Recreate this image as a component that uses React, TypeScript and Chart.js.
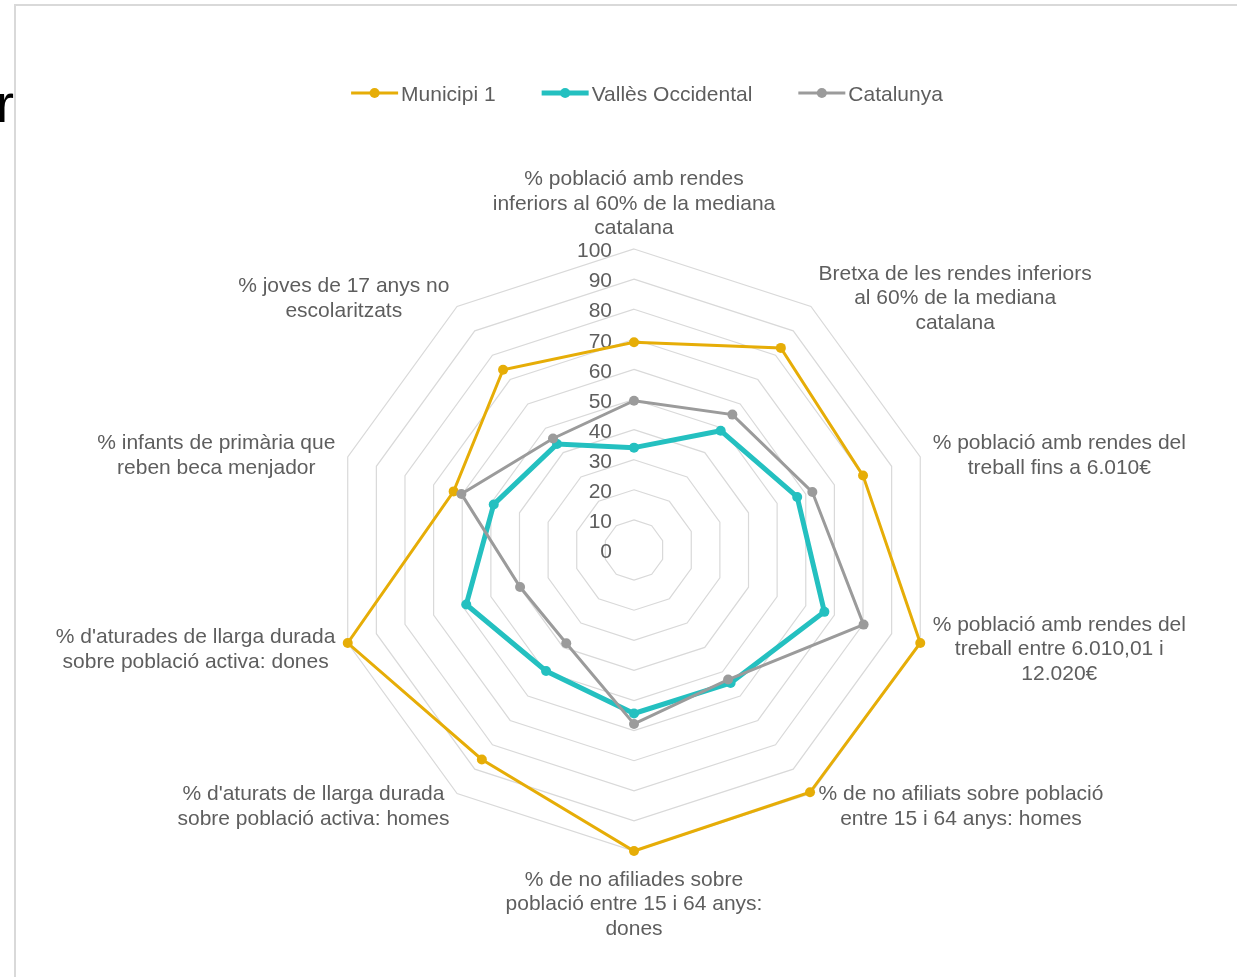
import React, { useEffect, useRef } from 'react';
import { Chart, registerables } from 'chart.js';

Chart.register(...registerables);

// ---- data ----
const categories: string[][] = [
  ['% població amb rendes', 'inferiors al 60% de la mediana', 'catalana'],
  ['Bretxa de les rendes inferiors', 'al 60% de la mediana', 'catalana'],
  ['% població amb rendes del', 'treball fins a 6.010€'],
  ['% població amb rendes del', 'treball entre 6.010,01 i', '12.020€'],
  ['% de no afiliats sobre població', 'entre 15 i 64 anys: homes'],
  ['% de no afiliades sobre', 'població entre 15 i 64 anys:', 'dones'],
  ["% d'aturats de llarga durada", 'sobre població activa: homes'],
  ["% d'aturades de llarga durada", 'sobre població activa: dones'],
  ['% infants de primària que', 'reben beca menjador'],
  ['% joves de 17 anys no', 'escolaritzats'],
];

const seriesNames = ['Municipi 1', 'Vallès Occidental', 'Catalunya'];
const municipi1 = [69, 83, 80, 100, 99.5, 100, 86, 100, 63, 74];
const vallesOccidental = [34, 49, 57, 66.5, 54.6, 54.3, 49.7, 58.6, 49, 43.5];
const catalunya = [49.6, 55.6, 62.3, 80.2, 53.2, 57.8, 38.3, 39.8, 60.3, 45.8];
const radialTicks = [0, 10, 20, 30, 40, 50, 60, 70, 80, 90, 100];

const seriesColors = ['#E6AD07', '#24C0C0', '#9B9B9B'];
const TEXT = '#5E5E5E';
const FONT = '21px "Liberation Sans", Arial, sans-serif';
const LH = 24.5;
const TEXT_DY = 2.5;

const customDraw = {
  id: 'customDraw',
  beforeDatasetsDraw(chart: any) {
    const r = chart.scales.r;
    const ctx = chart.ctx;
    ctx.save();
    ctx.font = FONT;
    ctx.fillStyle = TEXT;
    ctx.textAlign = 'right';
    ctx.textBaseline = 'middle';
    radialTicks.forEach((v) => {
      const y = r.yCenter - r.getDistanceFromCenterForValue(v);
      ctx.fillText(String(v), r.xCenter - 22, y + TEXT_DY);
    });
    ctx.restore();
  },
  afterDraw(chart: any) {
    const r = chart.scales.r;
    const ctx = chart.ctx;
    ctx.save();
    ctx.font = FONT;
    ctx.fillStyle = TEXT;
    ctx.textAlign = 'center';
    ctx.textBaseline = 'middle';
    const labels: string[][] = chart.data.labels;
    const n = labels.length;
    labels.forEach((lines, i) => {
      const isTop = i === 0;
      const isBottom = 2 * i === n;
      const pos = r.getPointPosition(i, r.drawingArea + (isBottom ? 14 : isTop ? 11 : 13));
      const maxW = Math.max(...lines.map((l) => ctx.measureText(l).width));
      const blockH = lines.length * LH;
      let left: number;
      let top: number;
      if (isTop) {
        left = pos.x - maxW / 2;
        top = pos.y - blockH;
      } else if (isBottom) {
        left = pos.x - maxW / 2;
        top = pos.y;
      } else if (2 * i < n) {
        left = pos.x;
        top = pos.y - blockH / 2;
      } else {
        left = pos.x - maxW;
        top = pos.y - blockH / 2;
      }
      lines.forEach((l, k) => {
        ctx.fillText(l, left + maxW / 2, top + LH * (k + 0.5) + TEXT_DY);
      });
    });

    // legend
    const ds = chart.data.datasets;
    const markerW = 47;
    const textGap = 3;
    const itemGap = 46;
    const widths = ds.map((d: any) => ctx.measureText(d.label).width);
    const total =
      widths.reduce((a: number, w: number) => a + markerW + textGap + w, 0) + itemGap * (ds.length - 1);
    let x = 647 - total / 2;
    const y = 93;
    ds.forEach((d: any, i: number) => {
      ctx.strokeStyle = d.borderColor;
      ctx.lineWidth = d.borderWidth;
      ctx.beginPath();
      ctx.moveTo(x, y);
      ctx.lineTo(x + markerW, y);
      ctx.stroke();
      ctx.fillStyle = d.pointBackgroundColor;
      ctx.beginPath();
      ctx.arc(x + markerW / 2, y, 5, 0, Math.PI * 2);
      ctx.fill();
      ctx.fillStyle = TEXT;
      ctx.textAlign = 'left';
      ctx.fillText(d.label, x + markerW + textGap, y + 2);
      x += markerW + textGap + widths[i] + itemGap;
    });
    ctx.restore();
  },
};

export default function App() {
  const ref = useRef<HTMLCanvasElement | null>(null);

  useEffect(() => {
    if (!ref.current) return;
    const values = [municipi1, vallesOccidental, catalunya];
    const widths = [3, 5, 3];
    const orders = [3, 2, 1];
    const chart = new Chart(ref.current, {
      type: 'radar',
      data: {
        labels: categories,
        datasets: seriesNames.map((name, i) => ({
          label: name,
          data: values[i],
          borderColor: seriesColors[i],
          backgroundColor: seriesColors[i],
          pointBackgroundColor: seriesColors[i],
          pointBorderColor: seriesColors[i],
          borderWidth: widths[i],
          pointRadius: 5,
          pointBorderWidth: 0,
          fill: false,
          tension: 0,
          order: orders[i],
        })),
      },
      options: {
        responsive: false,
        animation: false,
        devicePixelRatio: 1,
        layout: { padding: { left: 333, right: 302, top: 249, bottom: 126 } },
        plugins: {
          legend: { display: false },
          tooltip: { enabled: false },
        },
        scales: {
          r: {
            min: 0,
            max: 100,
            afterBuildTicks: (scale: any) => {
              scale.ticks = radialTicks.map((v) => ({ value: v }));
            },
            ticks: { display: false, stepSize: 10 },
            grid: { color: '#D9D9D9', lineWidth: 1.2 },
            angleLines: { display: false },
            pointLabels: { display: false },
          },
        },
      },
      plugins: [customDraw],
    } as any);
    return () => chart.destroy();
  }, []);

  return (
    <div
      style={{
        position: 'absolute',
        left: 0,
        top: 0,
        width: 1237,
        height: 977,
        overflow: 'hidden',
        background: '#fff',
      }}
    >
      <div
        style={{
          position: 'absolute',
          left: -4,
          top: 76,
          fontFamily: '"Liberation Sans", Arial, sans-serif',
          fontSize: 54,
          lineHeight: '54px',
          color: '#000',
        }}
      >
        r
      </div>
      <div
        style={{
          position: 'absolute',
          left: 14,
          top: 4,
          width: 1400,
          height: 1200,
          border: '2px solid #D9D9D9',
          boxSizing: 'border-box',
        }}
      />
      <canvas
        ref={ref}
        width={1237}
        height={977}
        style={{ position: 'absolute', left: 0, top: 0, width: 1237, height: 977 }}
      />
    </div>
  );
}
